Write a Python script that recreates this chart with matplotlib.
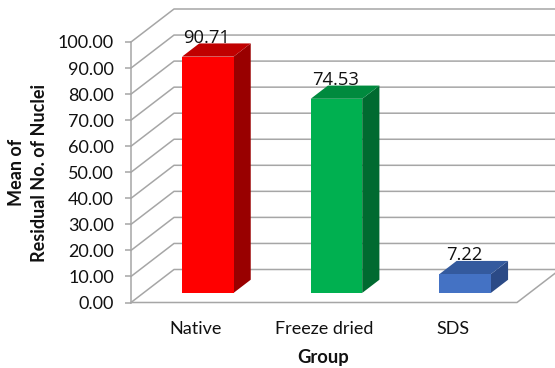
import matplotlib
matplotlib.use("Agg")
import matplotlib.pyplot as plt
from matplotlib.patches import Polygon

categories = ["Native", "Freeze dried", "SDS"]
means = [90.71, 74.53, 7.22]
mean_labels = ["90.71", "74.53", "7.22"]
front_colors = ["#ff0000", "#00b050", "#4472c4"]
side_colors = ["#990000", "#006a30", "#2b4a86"]
top_colors = ["#c00000", "#008a3e", "#345a9e"]
y_ticks = [0, 10, 20, 30, 40, 50, 60, 70, 80, 90, 100]

W, H = 555, 368
GRID = "#a6a6a6"
TEXT = "#111111"

# Oblique projection: depth 0 is the front plane, depth 1 the back wall.
SHIFT_X = 43 / 128.67
SHIFT_Y = 33 / 2.605


def project(x, y, depth):
    return x + depth * SHIFT_X, y + depth * SHIFT_Y


plt.rcParams["font.family"] = ["Lato", "DejaVu Sans"]
fig = plt.figure(figsize=(W / 100, H / 100), dpi=100)
ax = fig.add_axes([131 / W, (H - 302.5) / H, 386 / W, 260.5 / H])
ax.set_xlim(-0.5, 2.5)
ax.set_ylim(0, 100)
ax.patch.set_alpha(0)
for name in ["top", "right", "bottom"]:
    ax.spines[name].set_visible(False)
ax.spines["left"].set_color(GRID)
ax.spines["left"].set_linewidth(1.1)

# Back wall grid lines and their diagonals along the side wall
line_style = dict(color=GRID, lw=1.1, clip_on=False, zorder=1, solid_capstyle="projecting")
for v in y_ticks:
    x_front, y_front = project(-0.5, v, 0)
    x_back, y_back = project(-0.5, v, 1)
    x_end, y_end = project(2.5, v, 1)
    ax.plot([x_front, x_back, x_end], [y_front, y_back, y_end], **line_style)

# Floor outline
floor_x, floor_y = zip(project(-0.5, 0, 0), project(2.5, 0, 0), project(2.5, 0, 1))
ax.plot(floor_x, floor_y, **line_style)

# Oblique bars: side and top faces first, then the front face
BAR_W = 0.4
D0, D1 = 0.29, 0.69
for i, v in enumerate(means):
    x0, x1 = i - BAR_W / 2, i + BAR_W / 2
    side = [project(x1, 0, D0), project(x1, 0, D1), project(x1, v, D1), project(x1, v, D0)]
    top = [project(x0, v, D0), project(x1, v, D0), project(x1, v, D1), project(x0, v, D1)]
    ax.add_patch(Polygon(side, fc=side_colors[i], ec="none", clip_on=False, zorder=3))
    ax.add_patch(Polygon(top, fc=top_colors[i], ec="none", clip_on=False, zorder=3))
    front = [project(x0, 0, D0), project(x1, 0, D0), project(x1, v, D0), project(x0, v, D0)]
    ax.add_patch(Polygon(front, fc=front_colors[i], ec="none", clip_on=False, zorder=4))
    lx, ly = project(i, v, D0)
    ax.annotate(mean_labels[i], (lx - 0.01, ly), xytext=(0, 7), textcoords="offset points",
                ha="center", va="bottom", fontsize=13.2, color=TEXT,
                family=["Open Sans", "DejaVu Sans"], zorder=5, annotation_clip=False)

ax.set_yticks(y_ticks, [f"{v:.2f}" for v in y_ticks])
ax.set_xticks(range(len(categories)), categories)
ax.tick_params(axis="y", length=4.3, width=1.1, color=GRID, labelsize=13, labelcolor=TEXT, pad=8)
ax.tick_params(axis="x", length=0, labelsize=13, labelcolor=TEXT, pad=13.5)

fig.text(323.5 / W, (H - 358) / H, "Group", ha="center", va="center",
         fontsize=13.2, fontweight="bold", color=TEXT)
fig.text(16.5 / W, (H - 172.5) / H, "Mean of", ha="center", va="center",
         rotation=90, fontsize=13, fontweight="bold", color=TEXT)
fig.text(40 / W, (H - 172.5) / H, "Residual No. of Nuclei", ha="center", va="center",
         rotation=90, fontsize=13, fontweight="bold", color=TEXT)

fig.savefig("out.png", dpi=100)
